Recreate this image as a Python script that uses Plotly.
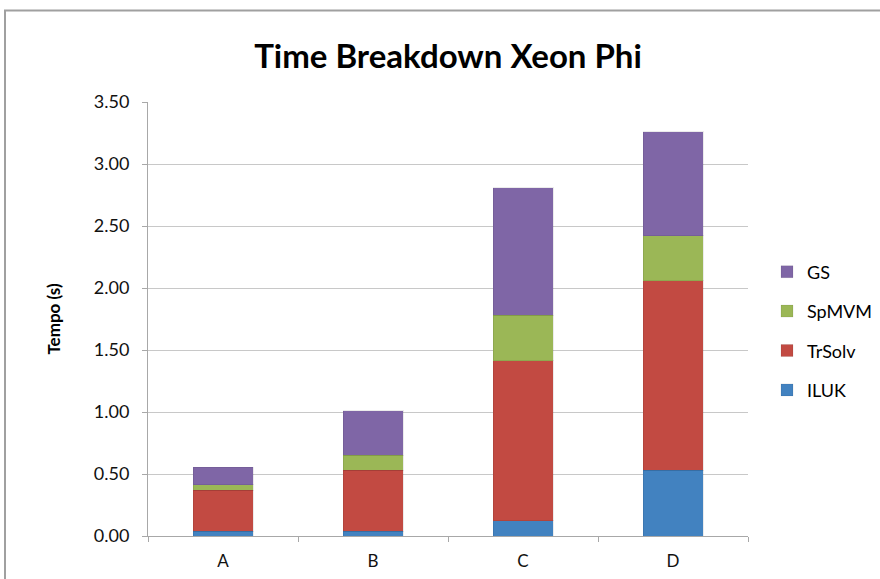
import plotly.graph_objects as go

categories = ["A", "B", "C", "D"]
iluk = [0.04, 0.04, 0.125, 0.53]
trsolv = [0.33, 0.49, 1.29, 1.53]
spmvm = [0.045, 0.12, 0.365, 0.36]
gs = [0.14, 0.36, 1.03, 0.84]
y_ticks = [0, 0.5, 1.0, 1.5, 2.0, 2.5, 3.0, 3.5]

series = [
    ("ILUK", iluk, "#4282C0", 4),
    ("TrSolv", trsolv, "#C24A42", 3),
    ("SpMVM", spmvm, "#9BB756", 2),
    ("GS", gs, "#7F66A6", 1),
]

font = "Lato, 'Open Sans', sans-serif"

fig = go.Figure()
for name, vals, col, rank in series:
    fig.add_trace(go.Bar(
        x=categories, y=vals, name=name, legendgroup=name, legendrank=rank,
        marker=dict(color=col, line=dict(color="rgba(0,0,0,0.08)", width=1)),
    ))

fig.update_layout(
    barmode="stack",
    bargap=0.6,
    width=880, height=579,
    margin=dict(l=148, r=132, t=102, b=43, autoexpand=False),
    paper_bgcolor="white", plot_bgcolor="white",
    font=dict(family=font, size=18, color="#111"),
    title=dict(text="<b>Time Breakdown Xeon Phi</b>", xref="paper", x=0.5, xanchor="center",
               y=1 - 56 / 579, yanchor="middle",
               font=dict(size=33, family=font, color="#000")),
    legend=dict(xref="container", yref="container",
                x=767 / 880, xanchor="left", y=1 - 331 / 579, yanchor="middle",
                traceorder="grouped", tracegroupgap=13,
                font=dict(size=18, family=font, color="#000"),
                itemwidth=30),
    showlegend=True,
    shapes=[dict(type="rect", xref="paper", yref="paper",
                 x0=(5 - 148) / 600, x1=1.5, y0=-0.5, y1=(536 - 10.5) / 434,
                 line=dict(color="#A0A0A0", width=2), fillcolor="rgba(0,0,0,0)",
                 layer="below")],
)

fig.update_yaxes(
    range=[0, 3.5], tickvals=y_ticks, tickformat=".2f",
    showgrid=True, gridcolor="#C8C8C8", gridwidth=1,
    showline=True, linecolor="#A8A8A8", linewidth=1,
    ticks="outside", ticklen=5, tickcolor="#A8A8A8",
    ticklabelstandoff=9, automargin=False,
    zeroline=False,
    title=dict(text="<b>Tempo (s)</b>", font=dict(size=17, family=font, color="#000"), standoff=28),
    tickfont=dict(size=18, family=font, color="#111"),
)
fig.update_xaxes(
    showline=True, linecolor="#A8A8A8", linewidth=1,
    ticks="outside", ticklen=5, tickcolor="#A8A8A8", tickson="boundaries",
    ticklabelstandoff=10, automargin=False,
    tickfont=dict(size=17, family=font, color="#111"),
)

fig.write_html("out.html")
